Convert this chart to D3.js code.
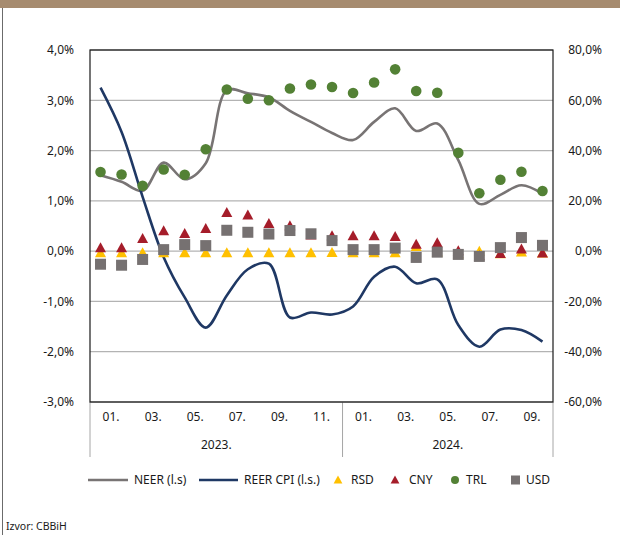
<!DOCTYPE html>
<html>
<head>
<meta charset="utf-8">
<script src="https://cdn.jsdelivr.net/npm/d3@7"></script>
<style>
  body { margin: 0; background: #fff; }
  svg { display: block; font-family: "Noto Sans", sans-serif; }
</style>
</head>
<body>
<svg id="chart" width="620" height="535"></svg>
<script>
// ---- data ----
const categories = ["2023-01","2023-02","2023-03","2023-04","2023-05","2023-06","2023-07","2023-08","2023-09","2023-10","2023-11","2023-12",
                    "2024-01","2024-02","2024-03","2024-04","2024-05","2024-06","2024-07","2024-08","2024-09","2024-10"];
const monthTickLabels = ["01.","03.","05.","07.","09.","11.","01.","03.","05.","07.","09."];
const yearLabels = ["2023.","2024."];
const leftTicks = [-3,-2,-1,0,1,2,3,4];
const rightTicks = [-60,-40,-20,0,20,40,60,80];

// left axis (%)
const neer = [1.51,1.38,1.20,1.76,1.43,1.75,3.20,3.14,3.06,2.79,2.57,2.35,2.21,2.57,2.84,2.39,2.54,1.81,0.94,1.12,1.31,1.14];
const reerCpi = [3.25,2.37,1.08,-0.12,-0.92,-1.52,-0.88,-0.36,-0.25,-1.32,-1.22,-1.26,-1.10,-0.51,-0.31,-0.64,-0.56,-1.47,-1.90,-1.56,-1.57,-1.80];
// right axis (%)
const rsd = [-0.6,-0.6,-0.6,-0.6,-0.6,-0.6,-0.6,-0.6,-0.6,-0.6,-0.6,-0.5,-0.6,-0.6,-0.6,1.8,-0.3,-1.0,0.0,-1.0,-0.3,-0.7];
const cny = [1.3,1.3,5.0,8.1,7.0,9.0,15.4,14.4,11.0,10.1,6.4,6.1,6.1,6.1,5.8,2.7,3.3,0.2,-1.8,-0.9,0.9,-0.7];
const trl = [31.5,30.5,26.0,32.5,30.4,40.5,64.3,60.6,60.0,64.7,66.3,65.3,62.9,67.1,72.3,63.7,63.0,39.1,23.0,28.4,31.6,23.9];
const usd = [-5.2,-5.6,-3.3,0.6,2.6,2.2,8.3,7.5,6.8,8.2,6.9,4.2,0.6,0.6,1.2,-2.5,-0.4,-1.3,-2.1,1.4,5.4,2.3];

// ---- layout ----
const svg = d3.select("#chart");
const L = 90, R = 553, T = 50, B = 402;
const textColor = "#1a1a1a";

const x = d3.scaleBand().domain(categories).range([L, R]);
const cx = d => x(d) + x.bandwidth() / 2;
const yL = d3.scaleLinear().domain([-3, 4]).range([B, T]);
const yR = d3.scaleLinear().domain([-60, 80]).range([B, T]);

const fmt = v => d3.format(".1f")(v).replace(".", ",").replace("−", "-") + "%";

// top band and left frame line
svg.append("rect").attr("x", 0).attr("y", 0).attr("width", 620).attr("height", 8).attr("fill", "#a68b6f");
svg.append("line").attr("x1", 2.5).attr("x2", 2.5).attr("y1", 8).attr("y2", 535).attr("stroke", "#6b6b6b").attr("stroke-width", 1);

// gridlines
svg.append("g").selectAll("line").data(leftTicks).join("line")
  .attr("x1", L).attr("x2", R)
  .attr("y1", d => yL(d)).attr("y2", d => yL(d))
  .attr("stroke", "#b3b3b3").attr("stroke-width", 1.3);

// left axis
const gl = svg.append("g").attr("transform", `translate(${L},0)`)
  .call(d3.axisLeft(yL).tickValues(leftTicks).tickSize(0).tickPadding(16).tickFormat(fmt));
gl.select(".domain").remove();
gl.selectAll("text").attr("font-size", 12).attr("fill", textColor).attr("font-family", "Noto Sans");

// right axis
const gr = svg.append("g").attr("transform", `translate(${R},0)`)
  .call(d3.axisRight(yR).tickValues(rightTicks).tickSize(0).tickPadding(0).tickFormat(fmt));
gr.select(".domain").remove();
gr.selectAll("text").attr("font-size", 12).attr("fill", textColor).attr("font-family", "Noto Sans")
  .attr("text-anchor", "end").attr("x", 49);

// x axis category labels
const tickCats = categories.filter((c, i) => i % 2 === 0);
svg.append("g").selectAll("text").data(monthTickLabels).join("text")
  .attr("x", (d, i) => x(tickCats[i]) + x.bandwidth())
  .attr("y", 421)
  .attr("text-anchor", "middle").attr("font-size", 12).attr("fill", textColor)
  .text(d => d);

// year group dividers & labels
const yearStarts = [categories[0], categories[12]];
const yearEnds = [categories[11], categories[21]];
const dividers = [x(categories[0]), x(categories[12]), x(categories[21]) + x.bandwidth()];
svg.append("g").selectAll("line").data(dividers).join("line")
  .attr("x1", d => d).attr("x2", d => d).attr("y1", B).attr("y2", 457)
  .attr("stroke", "#a6a6a6").attr("stroke-width", 1);
svg.append("g").selectAll("text").data(yearLabels).join("text")
  .attr("x", (d, i) => (x(yearStarts[i]) + x(yearEnds[i]) + x.bandwidth()) / 2)
  .attr("y", 449)
  .attr("text-anchor", "middle").attr("font-size", 12).attr("fill", textColor)
  .text(d => d);

// plot border
svg.append("rect").attr("x", L).attr("y", T).attr("width", R - L).attr("height", B - T)
  .attr("fill", "none").attr("stroke", "#1a1a1a").attr("stroke-width", 1.2);

// lines
const neerColor = "#787474", reerColor = "#1f3864";
const lineL = d3.line().x((d, i) => cx(categories[i])).y(d => yL(d)).curve(d3.curveCatmullRom.alpha(0.5));
svg.append("path").datum(neer).attr("d", lineL).attr("fill", "none").attr("stroke", neerColor).attr("stroke-width", 2.6);
svg.append("path").datum(reerCpi).attr("d", lineL).attr("fill", "none").attr("stroke", reerColor).attr("stroke-width", 2.6);

// markers
const rsdColor = "#ffc000", cnyColor = "#a51d2a", trlColor = "#538135", usdColor = "#767171";
const tri = (px, py, s) => `M${px},${py - s * 0.55} L${px + s * 0.55},${py + s * 0.45} L${px - s * 0.55},${py + s * 0.45} Z`;

svg.append("g").selectAll("path").data(rsd).join("path")
  .attr("d", (d, i) => tri(cx(categories[i]), yR(d), 10)).attr("fill", rsdColor);
svg.append("g").selectAll("path").data(cny).join("path")
  .attr("d", (d, i) => tri(cx(categories[i]), yR(d), 10)).attr("fill", cnyColor);
svg.append("g").selectAll("circle").data(trl).join("circle")
  .attr("cx", (d, i) => cx(categories[i])).attr("cy", d => yR(d)).attr("r", 5.3).attr("fill", trlColor);
svg.append("g").selectAll("rect").data(usd).join("rect")
  .attr("x", (d, i) => cx(categories[i]) - 5.5).attr("y", d => yR(d) - 5.5)
  .attr("width", 11).attr("height", 11).attr("fill", usdColor);

// legend
const lg = svg.append("g").attr("font-size", 12).attr("fill", textColor);
const ly = 480;
lg.append("line").attr("x1", 88).attr("x2", 128).attr("y1", ly).attr("y2", ly).attr("stroke", neerColor).attr("stroke-width", 2.6);
lg.append("text").attr("x", 134).attr("y", ly + 4).text("NEER (l.s)");
lg.append("line").attr("x1", 199).attr("x2", 238).attr("y1", ly).attr("y2", ly).attr("stroke", reerColor).attr("stroke-width", 2.6);
lg.append("text").attr("x", 244).attr("y", ly + 4).text("REER CPI (l.s.)");
lg.append("path").attr("d", tri(338, ly, 8)).attr("fill", rsdColor);
lg.append("text").attr("x", 351).attr("y", ly + 4).text("RSD");
lg.append("path").attr("d", tri(395, ly, 8)).attr("fill", cnyColor);
lg.append("text").attr("x", 409).attr("y", ly + 4).text("CNY");
lg.append("circle").attr("cx", 455).attr("cy", ly).attr("r", 4).attr("fill", trlColor);
lg.append("text").attr("x", 466).attr("y", ly + 4).text("TRL");
lg.append("rect").attr("x", 511).attr("y", ly - 4.5).attr("width", 9).attr("height", 9).attr("fill", usdColor);
lg.append("text").attr("x", 526).attr("y", ly + 4).text("USD");

// source
svg.append("text").attr("x", 6).attr("y", 530).attr("font-size", 10.5).attr("fill", textColor).text("Izvor: CBBiH");
</script>
</body>
</html>
